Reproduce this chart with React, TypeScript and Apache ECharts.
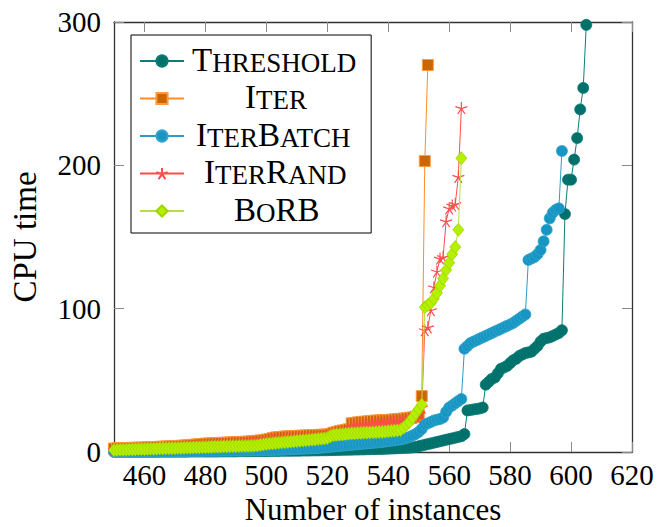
import React, { useEffect, useRef } from "react";
import * as echarts from "echarts";

const START = 450;
const seriesNames = ["Threshold", "Iter", "IterBatch", "IterRand", "BoRB"];
const xTicks = [460, 480, 500, 520, 540, 560, 580, 600, 620];
const yTicks = [0, 100, 200, 300];

const thresholdVals = [
  0.1, 0.1, 0.1, 0.1, 0.1, 0.1, 0.1, 0.1, 0.1, 0.1,
  0.1, 0.1, 0.1, 0.1, 0.1, 0.2, 0.2, 0.2, 0.2, 0.2,
  0.2, 0.2, 0.2, 0.2, 0.2, 0.3, 0.3, 0.3, 0.3, 0.3,
  0.3, 0.3, 0.3, 0.3, 0.3, 0.4, 0.4, 0.4, 0.4, 0.4,
  0.4, 0.5, 0.5, 0.5, 0.5, 0.5, 0.6, 0.6, 0.6, 0.6,
  0.6, 0.7, 0.7, 0.7, 0.7, 0.8, 0.8, 0.8, 0.8, 0.9,
  0.9, 0.9, 1.0, 1.0, 1.0, 1.1, 1.1, 1.1, 1.2, 1.2,
  1.2, 1.3, 1.3, 1.4, 1.4, 1.5, 1.5, 1.6, 1.6, 1.7,
  1.7, 1.8, 1.8, 1.9, 1.9, 2.0, 2.0, 2.1, 2.1, 2.2,
  2.3, 2.4, 2.5, 2.6, 2.7, 2.8, 2.9, 3.0, 3.2, 3.5,
  4.0, 4.5, 5.0, 5.5, 6.0, 6.5, 7.0, 7.5, 8.0, 8.5,
  9.0, 9.5, 10.0, 10.5, 11.0, 12.5, 29.0, 29.3, 29.7, 30.0,
  30.4, 31.0, 47, 49, 51, 52, 55, 58, 59, 60,
  62, 64, 65, 67, 68, 69, 69.5, 70, 72, 74,
  77, 79, 79.5, 80, 81, 82, 83, 85, 166, 190,
  190, 204, 219, 239, 254, 298,
];

const iterVals = [
  2.4, 2.5, 2.6, 2.6, 2.7, 2.8, 2.9, 2.9, 3.0, 3.0,
  3.1, 3.2, 3.3, 3.4, 3.5, 3.6, 3.7, 3.8, 3.9, 4.0,
  4.1, 4.2, 4.3, 4.5, 4.6, 4.8, 5.0, 5.2, 5.4, 5.6,
  5.8, 5.9, 6.0, 6.1, 6.2, 6.3, 6.4, 6.5, 6.6, 6.7,
  6.8, 6.9, 7.0, 7.1, 7.2, 7.4, 7.6, 7.8, 8.0, 8.2,
  8.6, 9.0, 9.6, 10.1, 10.3, 10.5, 10.7, 10.9, 11.0, 11.1,
  11.2, 11.3, 11.4, 11.5, 11.6, 11.7, 11.8, 11.9, 12.0, 12.1,
  12.2, 12.6, 13.4, 13.9, 14.5, 15.0, 15.4, 15.8, 20.0, 20.3,
  20.6, 20.9, 21.1, 21.3, 21.5, 21.7, 21.9, 22.0, 22.1, 22.2,
  22.3, 22.5, 22.7, 22.9, 23.1, 23.3, 23.5, 23.8, 24.1, 24.6,
  26, 39, 203, 270,
];

const iterBatchVals = [
  0.3, 0.3, 0.3, 0.3, 0.3, 0.4, 0.4, 0.4, 0.4, 0.4,
  0.4, 0.4, 0.5, 0.5, 0.5, 0.5, 0.5, 0.5, 0.5, 0.6,
  0.6, 0.6, 0.6, 0.6, 0.6, 0.7, 0.7, 0.7, 0.7, 0.7,
  0.8, 0.8, 0.8, 0.8, 0.8, 0.9, 0.9, 0.9, 0.9, 1.0,
  1.0, 1.0, 1.0, 1.1, 1.1, 1.1, 1.2, 1.2, 1.2, 1.3,
  1.3, 1.4, 1.4, 1.5, 1.5, 1.6, 1.7, 1.8, 1.9, 2.0,
  2.1, 2.2, 2.3, 2.4, 2.5, 2.6, 2.7, 2.8, 3.0, 3.2,
  3.4, 3.6, 3.8, 4.0, 4.2, 4.4, 4.6, 4.8, 5.0, 5.2,
  5.4, 5.6, 5.8, 6.0, 6.2, 6.4, 6.6, 6.8, 7.0, 7.3,
  7.6, 7.9, 8.2, 8.5, 8.8, 9.2, 9.8, 10.5, 11.5, 12.5,
  14, 16, 19, 20, 21, 22, 22.5, 23, 24, 28,
  31, 32.5, 34, 35.5, 37, 72, 74, 76, 77, 78,
  79, 80, 81, 82, 83, 84, 85, 86, 87, 88,
  89, 90, 91.5, 93, 94.5, 96, 134, 135, 136, 138,
  141, 147, 155, 163, 167, 169, 170, 210,
];

const iterRandVals = [
  1.5, 1.6, 1.7, 1.7, 1.8, 1.9, 2.0, 2.0, 2.1, 2.2,
  2.3, 2.4, 2.5, 2.6, 2.7, 2.8, 2.9, 3.0, 3.1, 3.2,
  3.3, 3.4, 3.5, 3.6, 3.8, 3.9, 4.1, 4.3, 4.5, 4.7,
  4.9, 5.0, 5.1, 5.2, 5.3, 5.4, 5.5, 5.6, 5.7, 5.8,
  5.9, 6.0, 6.1, 6.2, 6.3, 6.5, 6.7, 6.9, 7.1, 7.3,
  7.6, 8.0, 8.4, 8.8, 9.1, 9.3, 9.5, 9.7, 9.8, 9.9,
  10.0, 10.1, 10.2, 10.3, 10.4, 10.5, 10.6, 10.7, 10.8, 10.9,
  11.0, 11.4, 12.2, 12.8, 13.4, 14.0, 14.5, 15.0, 17.5, 18.0,
  18.3, 18.6, 18.9, 19.2, 19.4, 19.6, 19.8, 20.0, 20.2, 20.4,
  20.6, 20.8, 21.0, 21.3, 21.6, 22.0, 22.6, 23.3, 24.0, 25.0,
  27, 31, 85, 87, 99, 115, 126, 135, 136, 161,
  170, 172, 173, 192, 240,
];

const borbVals = [
  1.3, 1.4, 1.5, 1.5, 1.6, 1.7, 1.7, 1.8, 1.9, 2.0,
  2.0, 2.1, 2.2, 2.2, 2.3, 2.4, 2.4, 2.5, 2.6, 2.6,
  2.7, 2.8, 2.8, 2.9, 3.0, 3.0, 3.1, 3.2, 3.2, 3.3,
  3.4, 3.4, 3.5, 3.6, 3.6, 3.7, 3.8, 3.8, 3.9, 4.0,
  4.0, 4.1, 4.1, 4.2, 4.2, 4.3, 4.4, 4.6, 4.9, 5.2,
  5.6, 5.8, 6.0, 6.2, 6.4, 6.6, 6.8, 7.0, 7.2, 7.4,
  7.6, 7.8, 8.0, 8.2, 8.4, 8.6, 8.8, 9.0, 9.2, 9.4,
  9.8, 11.0, 11.8, 12.0, 12.2, 12.4, 12.6, 12.8, 13.0, 13.1,
  13.2, 13.3, 13.4, 13.5, 13.6, 13.7, 13.8, 13.9, 14.0, 14.2,
  14.4, 14.6, 14.8, 15.0, 15.4, 17, 19, 21, 24, 27,
  30, 33, 101, 102.5, 104, 107, 111, 116, 121, 127,
  132, 138, 143, 155, 205,
];

const FONT = "'Liberation Serif', 'Times New Roman', serif";
const STAR =
  "path://M0,-10L0,0M0,0L9.51,-3.09M0,0L5.88,8.09M0,0L-5.88,8.09M0,0L-9.51,-3.09";

const legendLabels: Record<string, string> = {
  Threshold: "{sp1| }{b|T}{s|HRESHOLD}",
  Iter: "{sp2| }{b|I}{s|TER}",
  IterBatch: "{sp3| }{b|I}{s|TER}{b|B}{s|ATCH}",
  IterRand: "{sp4| }{b|I}{s|TER}{b|R}{s|AND}",
  BoRB: "{sp5| }{b|B}{s|O}{b|RB}",
};

const toPairs = (vals: number[]) => vals.map((v, i) => [START + i, v]);

export default function App() {
  const ref = useRef<HTMLDivElement>(null);
  useEffect(() => {
    if (!ref.current) return;
    const chart = echarts.init(ref.current, undefined, { renderer: "svg" });
    const tickStyle = { show: true, inside: true, length: 10, lineStyle: { color: "#8a8a8a", width: 1 } };
    const axisLine = { show: true, onZero: false, lineStyle: { color: "#333", width: 1.3 } };
    chart.setOption({
      animation: false,
      backgroundColor: "#fff",
      grid: {
        left: 114,
        right: 25,
        top: 22,
        bottom: 75,
        containLabel: false,
        outerBoundsMode: "none",
      },
      legend: {
        orient: "vertical",
        left: 131,
        top: 35,
        padding: [8, 15, 7, 8],
        itemGap: 4.5,
        itemWidth: 44,
        itemHeight: 14,
        backgroundColor: "#fff",
        borderColor: "#000",
        borderWidth: 1,
        data: seriesNames,
        formatter: (name: string) => legendLabels[name],
        textStyle: {
          fontFamily: FONT,
          color: "#000",
          lineHeight: 30,
          rich: {
            sp1: { width: 3 },
            sp2: { width: 56 },
            sp3: { width: 7 },
            sp4: { width: 15 },
            sp5: { width: 45 },
            b: { fontSize: 33, fontFamily: FONT, color: "#000", verticalAlign: "bottom", lineHeight: 30 },
            s: { fontSize: 27, fontFamily: FONT, color: "#000", verticalAlign: "bottom", lineHeight: 30 },
          },
        },
      },
      xAxis: [
        {
          type: "value",
          min: 450,
          max: 620,
          position: "bottom",
          name: "Number of instances",
          nameLocation: "middle",
          nameGap: 42,
          nameTextStyle: { fontFamily: FONT, fontSize: 31, lineHeight: 28, color: "#000" },
          axisLine,
          axisTick: { ...tickStyle, customValues: xTicks },
          axisLabel: { fontFamily: FONT, fontSize: 29, color: "#000", margin: 8, customValues: xTicks },
          splitLine: { show: false },
        },
        {
          type: "value",
          min: 450,
          max: 620,
          position: "top",
          axisLine,
          axisTick: { ...tickStyle, customValues: xTicks },
          axisLabel: { show: false },
          splitLine: { show: false },
        },
      ],
      yAxis: [
        {
          type: "value",
          min: 0,
          max: 300,
          interval: 100,
          position: "left",
          name: "CPU time",
          nameLocation: "middle",
          nameGap: 73,
          nameTextStyle: { fontFamily: FONT, fontSize: 33, color: "#000" },
          axisLine,
          axisTick: { ...tickStyle, customValues: yTicks },
          axisLabel: { fontFamily: FONT, fontSize: 29, color: "#000", margin: 13, customValues: yTicks },
          splitLine: { show: false },
        },
        {
          type: "value",
          min: 0,
          max: 300,
          interval: 100,
          position: "right",
          axisLine,
          axisTick: { ...tickStyle, customValues: yTicks },
          axisLabel: { show: false },
          splitLine: { show: false },
        },
      ],
      series: [
        {
          name: "Threshold",
          type: "line",
          data: toPairs(thresholdVals),
          symbol: "circle",
          symbolSize: 11,
          lineStyle: { color: "#0c7d78", width: 1 },
          itemStyle: { color: "#00706b", borderColor: "#0a7b76", borderWidth: 0.8 },
          clip: true,
          z: 2,
        },
        {
          name: "Iter",
          type: "line",
          data: toPairs(iterVals),
          symbol: "rect",
          symbolSize: 11,
          lineStyle: { color: "#ff8c26", width: 1 },
          itemStyle: { color: "#cc6600", borderColor: "#ff9a40", borderWidth: 1 },
          clip: true,
          z: 3,
        },
        {
          name: "IterBatch",
          type: "line",
          data: toPairs(iterBatchVals),
          symbol: "circle",
          symbolSize: 11,
          lineStyle: { color: "#2a9cc6", width: 1 },
          itemStyle: { color: "#1796c3", borderColor: "#34a4cd", borderWidth: 0.8 },
          clip: true,
          z: 4,
        },
        {
          name: "IterRand",
          type: "line",
          data: toPairs(iterRandVals),
          symbol: STAR,
          symbolSize: 12,
          lineStyle: { color: "#ff4d4d", width: 1 },
          itemStyle: { color: "#ff4d4d", borderColor: "#ff4d4d", borderWidth: 1.2 },
          clip: true,
          z: 5,
        },
        {
          name: "BoRB",
          type: "line",
          data: toPairs(borbVals),
          symbol: "diamond",
          symbolSize: [11, 13],
          lineStyle: { color: "#b6de48", width: 1 },
          itemStyle: { color: "#b4f000", borderColor: "#9fd400", borderWidth: 0.8 },
          clip: true,
          z: 6,
        },
      ],
    });
    return () => chart.dispose();
  }, []);
  return (
    <div
      ref={ref}
      style={{ position: "absolute", left: 0, top: 0, width: 657, height: 527 }}
    />
  );
}
